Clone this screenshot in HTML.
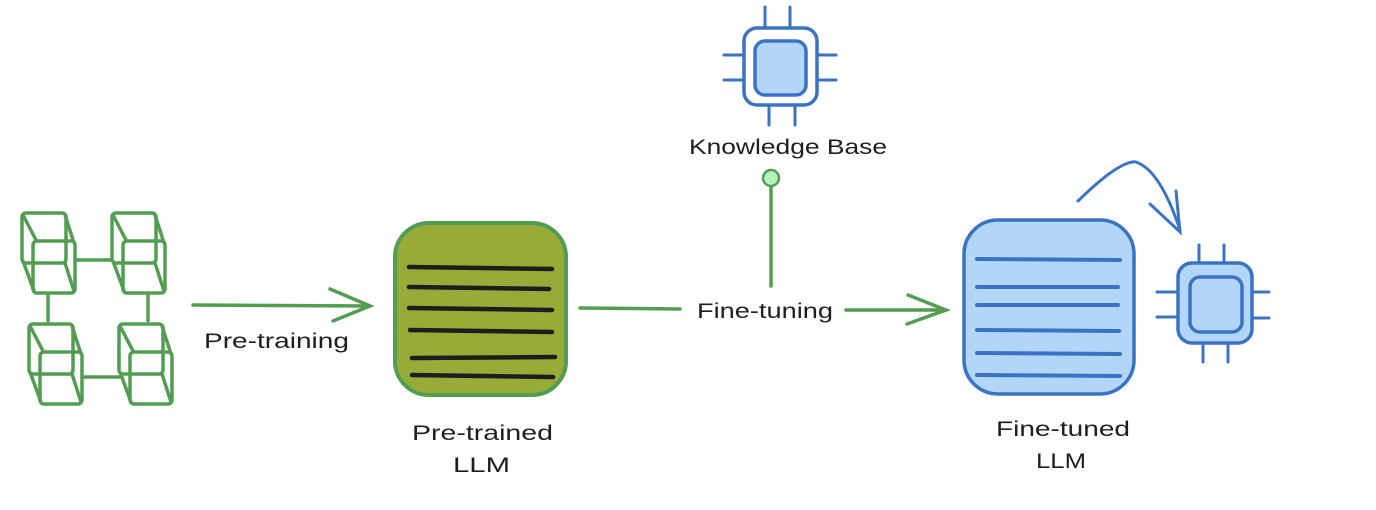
<!DOCTYPE html>
<html><head><meta charset="utf-8"><style>
html,body{margin:0;padding:0;background:#fff;}
svg{display:block;}
text{font-family:"Liberation Sans",sans-serif;font-size:21px;fill:#1e1e1e;}
</style></head><body>
<svg width="1376" height="510" viewBox="0 0 1376 510" xmlns="http://www.w3.org/2000/svg">
<defs>
<g id="cube" fill="none" stroke="#529d52" stroke-width="3.5" stroke-linejoin="round">
<rect x="0" y="0" width="44" height="50" rx="4"/>
<rect x="11" y="28" width="42" height="52" rx="4"/>
<path d="M1 2 L15 29 M43 2 L52 30 M1 48 L12 78 M43 50 L52 78"/>
</g>
</defs>
<g stroke="#529d52" stroke-width="3.5">
<line x1="75" y1="260" x2="112" y2="260"/>
<line x1="83" y1="377" x2="122" y2="377"/>
<line x1="48" y1="292" x2="48" y2="322"/>
<line x1="148" y1="292" x2="148" y2="322"/>
</g>
<use href="#cube" x="22" y="213"/>
<use href="#cube" x="112" y="213"/>
<use href="#cube" x="29" y="324"/>
<use href="#cube" x="119" y="324"/>

<g stroke="#529d52" stroke-width="3.5" fill="none" stroke-linecap="round">
<line x1="193" y1="305" x2="370" y2="306"/>
<path d="M330 289 L370 306 L333 321"/>
<line x1="580" y1="308" x2="680" y2="309"/>
<line x1="846" y1="310" x2="946" y2="310"/>
<path d="M908 295 L946 310 L907 324"/>
<line x1="771" y1="187" x2="771" y2="286"/>
</g>
<circle cx="771" cy="178" r="8" fill="#b2f2bb" stroke="#529d52" stroke-width="2.5"/>
<text x="204" y="348" textLength="145" lengthAdjust="spacingAndGlyphs">Pre-training</text>
<text x="697" y="318" textLength="136" lengthAdjust="spacingAndGlyphs">Fine-tuning</text>
<text x="689" y="154" textLength="198" lengthAdjust="spacingAndGlyphs">Knowledge Base</text>
<text x="412" y="440" textLength="141" lengthAdjust="spacingAndGlyphs">Pre-trained</text>
<text x="453" y="472" textLength="57" lengthAdjust="spacingAndGlyphs">LLM</text>
<text x="996" y="436" textLength="134" lengthAdjust="spacingAndGlyphs">Fine-tuned</text>
<text x="1036" y="468" textLength="50" lengthAdjust="spacingAndGlyphs">LLM</text>

<rect x="395" y="223" width="171" height="172" rx="34" fill="#97ab38" stroke="#529d52" stroke-width="4"/>
<g stroke="#1e1e1e" stroke-width="4.5" stroke-linecap="round">
<line x1="409" y1="267" x2="552" y2="269"/>
<line x1="409" y1="287" x2="549" y2="289"/>
<line x1="409" y1="308" x2="552" y2="310"/>
<line x1="410" y1="330" x2="552" y2="332"/>
<line x1="412" y1="358" x2="555" y2="357"/>
<line x1="412" y1="375" x2="553" y2="377"/>
</g>

<rect x="964" y="220" width="170" height="174" rx="34" fill="#b3d6f8" stroke="#3a73c2" stroke-width="3.5"/>
<g stroke="#3a73c2" stroke-width="4" stroke-linecap="round">
<line x1="977" y1="259" x2="1120" y2="260"/>
<line x1="977" y1="287" x2="1118" y2="287"/>
<line x1="977" y1="305" x2="1118" y2="305"/>
<line x1="977" y1="330" x2="1119" y2="331"/>
<line x1="977" y1="353" x2="1120" y2="354"/>
<line x1="977" y1="375" x2="1120" y2="376"/>
</g>

<g stroke="#3a73c2" stroke-width="3" fill="none" stroke-linecap="round">
<path d="M1078 201 Q1120 160 1136 162 Q1160 170 1180 230"/>
<path d="M1150 204 L1180 232 L1176 191"/>
</g>

<g stroke="#3a73c2" stroke-width="3" stroke-linecap="round">
<line x1="1199" y1="245" x2="1199" y2="262"/><line x1="1224" y1="245" x2="1224" y2="262"/>
<line x1="1203" y1="344" x2="1203" y2="362"/><line x1="1228" y1="344" x2="1228" y2="362"/>
<line x1="1157" y1="292" x2="1177" y2="292"/><line x1="1157" y1="317" x2="1177" y2="317"/>
<line x1="1252" y1="292" x2="1269" y2="292"/><line x1="1252" y1="318" x2="1269" y2="318"/>
</g>
<rect x="1178" y="263" width="74" height="80" rx="14" fill="#b3d6f8" stroke="#3a73c2" stroke-width="3.5"/>
<rect x="1190" y="277" width="52" height="55" rx="10" fill="#b3d6f8" stroke="#3a73c2" stroke-width="3.5"/>

<g stroke="#3a73c2" stroke-width="3" stroke-linecap="round">
<line x1="765" y1="7" x2="765" y2="27"/><line x1="790" y1="7" x2="790" y2="27"/>
<line x1="769" y1="106" x2="769" y2="125"/><line x1="795" y1="106" x2="795" y2="125"/>
<line x1="724" y1="55" x2="743" y2="55"/><line x1="724" y1="80" x2="743" y2="80"/>
<line x1="817" y1="55" x2="836" y2="55"/><line x1="817" y1="80" x2="836" y2="80"/>
</g>
<rect x="744" y="28" width="73" height="77" rx="13" fill="#fff" stroke="#3a73c2" stroke-width="3.5"/>
<rect x="755" y="41" width="51" height="54" rx="10" fill="#b3d6f8" stroke="#3a73c2" stroke-width="3.5"/>
</svg>
</body></html>
